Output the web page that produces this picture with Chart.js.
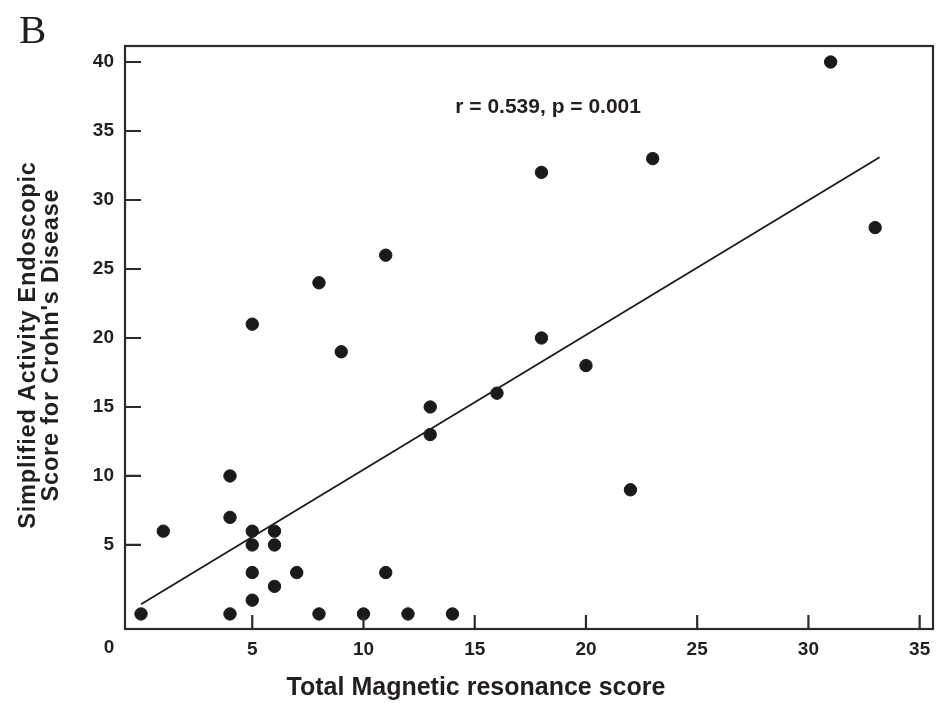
<!DOCTYPE html>
<html>
<head>
<meta charset="utf-8">
<script src="https://cdn.jsdelivr.net/npm/chart.js@4"></script>
<style>
  html, body { margin: 0; padding: 0; background: #fff; }
  #grafico { display: block; }
</style>
</head>
<body>
<canvas id="grafico" width="943" height="703"></canvas>
<script>
// Pontos (escore RM total x SES-CD)
const mrScore  = [0, 1, 4, 4, 4, 5, 5, 5, 5, 5, 6, 6, 6, 7, 8, 8, 9, 10, 11, 11, 12, 13, 13, 14, 16, 18, 18, 20, 22, 23, 31, 33];
const sesScore = [0, 6, 10, 7, 0, 21, 6, 5, 3, 1, 6, 5, 2, 3, 24, 0, 19, 0, 26, 3, 0, 15, 13, 0, 16, 32, 20, 18, 9, 33, 40, 28];

// Reta de regressão (extremos)
const fitX = [0, 33.2];
const fitY = [0.7, 33.1];

const xTicks = [5, 10, 15, 20, 25, 30, 35];
const yTicks = [5, 10, 15, 20, 25, 30, 35, 40];

const statsText = 'r = 0.539, p = 0.001';
const panelLabel = 'B';
const xTitle = 'Total Magnetic resonance score';
const yTitle = ['Simplified Activity Endoscopic', "Score for Crohn's Disease"];

const inkColor = '#231f20';
const tickFont = { family: 'Liberation Sans, Arial, sans-serif', size: 19, weight: 'bold' };

const ctx = document.getElementById('grafico').getContext('2d');

const desenhoExtra = {
  id: 'desenhoExtra',
  afterDraw(chart) {
    const c = chart.ctx;
    const a = chart.chartArea;
    const sx = chart.scales.x, sy = chart.scales.y;
    c.save();
    c.strokeStyle = '#2b2b2b';
    c.lineWidth = 2.2;
    c.strokeRect(a.left, a.top, a.right - a.left, a.bottom - a.top);

    // ticks para dentro
    c.beginPath();
    xTicks.forEach(v => {
      const px = sx.getPixelForValue(v);
      c.moveTo(px, a.bottom);
      c.lineTo(px, a.bottom - 14);
    });
    yTicks.forEach(v => {
      const py = sy.getPixelForValue(v);
      c.moveTo(a.left, py);
      c.lineTo(a.left + 16, py);
    });
    c.stroke();

    c.fillStyle = inkColor;
    c.font = 'bold 19px "Liberation Sans", Arial, sans-serif';
    c.textAlign = 'center';
    c.textBaseline = 'middle';
    c.fillText('0', 109, 648);

    // texto das estatísticas
    c.font = 'bold 21px "Liberation Sans", Arial, sans-serif';
    c.fillText(statsText, sx.getPixelForValue(18.3), sy.getPixelForValue(36.7));

    // títulos dos eixos
    c.font = 'bold 25px "Liberation Sans", Arial, sans-serif';
    c.fillText(xTitle, 476, 688);
    c.save();
    c.font = 'bold 23.5px "Liberation Sans", Arial, sans-serif';
    c.letterSpacing = '0.8px';
    c.translate(29, 345);
    c.rotate(-Math.PI / 2);
    c.fillText(yTitle[0], 0, 0);
    c.fillText(yTitle[1], 0, 23);
    c.restore();

    // letra do painel
    c.font = '41px "Liberation Serif", "Times New Roman", serif';
    c.textAlign = 'left';
    c.textBaseline = 'alphabetic';
    c.fillText(panelLabel, 19, 43);
    c.restore();
  }
};

const grafico = new Chart(ctx, {
  type: 'scatter',
  data: {
    datasets: [{
      label: 'Pacientes',
      data: mrScore.map((x, i) => ({ x: x, y: sesScore[i] })),
      backgroundColor: '#1a1a1a',
      borderColor: '#1a1a1a',
      pointRadius: 6.2,
      pointHoverRadius: 6.2
    }, {
      label: 'Regressão',
      type: 'line',
      data: fitX.map((x, i) => ({ x: x, y: fitY[i] })),
      borderColor: '#1a1a1a',
      borderWidth: 1.8,
      pointRadius: 0,
      fill: false
    }]
  },
  plugins: [desenhoExtra],
  options: {
    responsive: false,
    animation: false,
    layout: { padding: { left: 0, top: 46, right: 10, bottom: 0 } },
    plugins: { legend: { display: false }, tooltip: { enabled: false } },
    scales: {
      x: {
        type: 'linear',
        min: -0.72,
        max: 35.6,
        afterBuildTicks: s => { s.ticks = xTicks.map(v => ({ value: v })); },
        afterFit: s => { s.height = 74; },
        grid: { display: false, drawTicks: false },
        border: { display: false },
        ticks: { color: inkColor, font: tickFont, padding: 9, maxRotation: 0 }
      },
      y: {
        min: -1.09,
        max: 41.16,
        afterBuildTicks: s => { s.ticks = yTicks.map(v => ({ value: v })); },
        afterFit: s => { s.width = 125; },
        grid: { display: false, drawTicks: false },
        border: { display: false },
        ticks: { color: inkColor, font: tickFont, padding: 11 }
      }
    }
  }
});
</script>
</body>
</html>
